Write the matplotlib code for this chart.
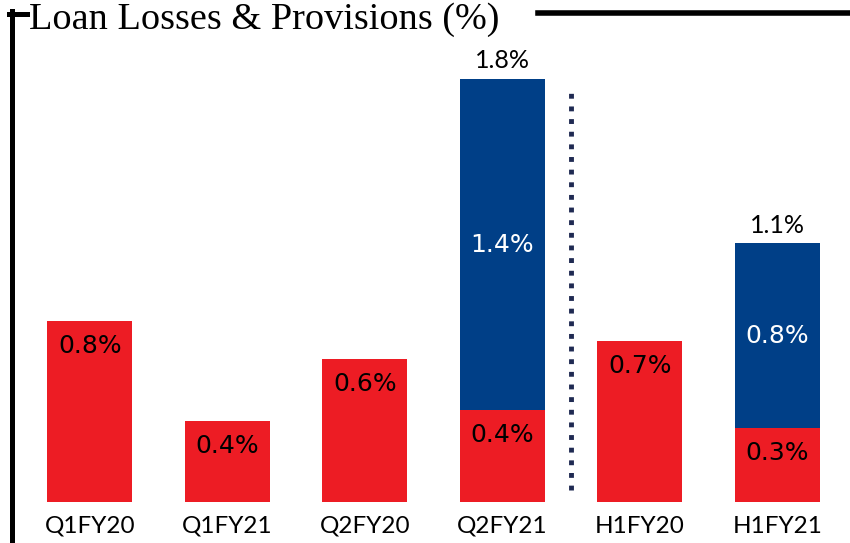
import matplotlib.pyplot as plt
from matplotlib.lines import Line2D

# data
periods = ["Q1FY20", "Q1FY21", "Q2FY20", "Q2FY21", "H1FY20", "H1FY21"]
losses = [0.77, 0.345, 0.61, 0.39, 0.685, 0.315]
provisions = [0.0, 0.0, 0.0, 1.41, 0.0, 0.785]
loss_labels = ["0.8%", "0.4%", "0.6%", "0.4%", "0.7%", "0.3%"]
prov_labels = ["", "", "", "1.4%", "", "0.8%"]
total_labels = ["", "", "", "1.8%", "", "1.1%"]

red = "#ED1C24"
navy = "#003F87"

fig = plt.figure(figsize=(8.5, 5.43), dpi=100)
ax = fig.add_axes([21 / 850, 41 / 543, 825 / 850, 482 / 543])

x = range(len(periods))
ax.bar(x, losses, width=0.62, color=red)
ax.bar(x, provisions, width=0.62, bottom=losses, color=navy)

for i in x:
    ax.annotate(loss_labels[i], (i, losses[i]), xytext=(0, -18), textcoords="offset points",
                ha="center", va="center", fontsize=18, family="DejaVu Sans", color="black")
    if provisions[i] > 0:
        ax.text(i, losses[i] + provisions[i] / 2, prov_labels[i], ha="center", va="center",
                fontsize=18, family="DejaVu Sans", color="white")
        ax.annotate(total_labels[i], (i, losses[i] + provisions[i]), xytext=(0, 13),
                    textcoords="offset points", ha="center", va="center",
                    fontsize=18, family="Lato", color="black")

# dotted divider between quarters and half years
ax.plot([3.5, 3.5], [0.05, 1.76], color="#1F2A52", lw=3.5, linestyle=(0, (1, 1.6)))

ax.set_xlim(-0.5, 5.5)
ax.set_ylim(0, 2.05)
ax.set_xticks(list(x))
ax.set_xticklabels(periods, fontsize=17.5, family="Lato")
ax.tick_params(axis="x", length=0, pad=10)
ax.set_yticks([])
for s in ax.spines.values():
    s.set_visible(False)

# title and bracket frame
fig.text(29 / 850, 1 - 29 / 543, "Loan Losses & Provisions (%)", family="Liberation Serif",
         fontsize=27.5, ha="left", va="baseline")
fig.add_artist(Line2D([11.5 / 850, 11.5 / 850], [0, 1 - 11 / 543], color="black", lw=3.6,
                      transform=fig.transFigure))
fig.add_artist(Line2D([9 / 850, 27 / 850], [1 - 13.5 / 543, 1 - 13.5 / 543], color="black",
                      lw=3.6, transform=fig.transFigure))
fig.add_artist(Line2D([538 / 850, 1], [1 - 13 / 543, 1 - 13 / 543], color="black", lw=4,
                      transform=fig.transFigure))

fig.savefig("out.png", dpi=100)
